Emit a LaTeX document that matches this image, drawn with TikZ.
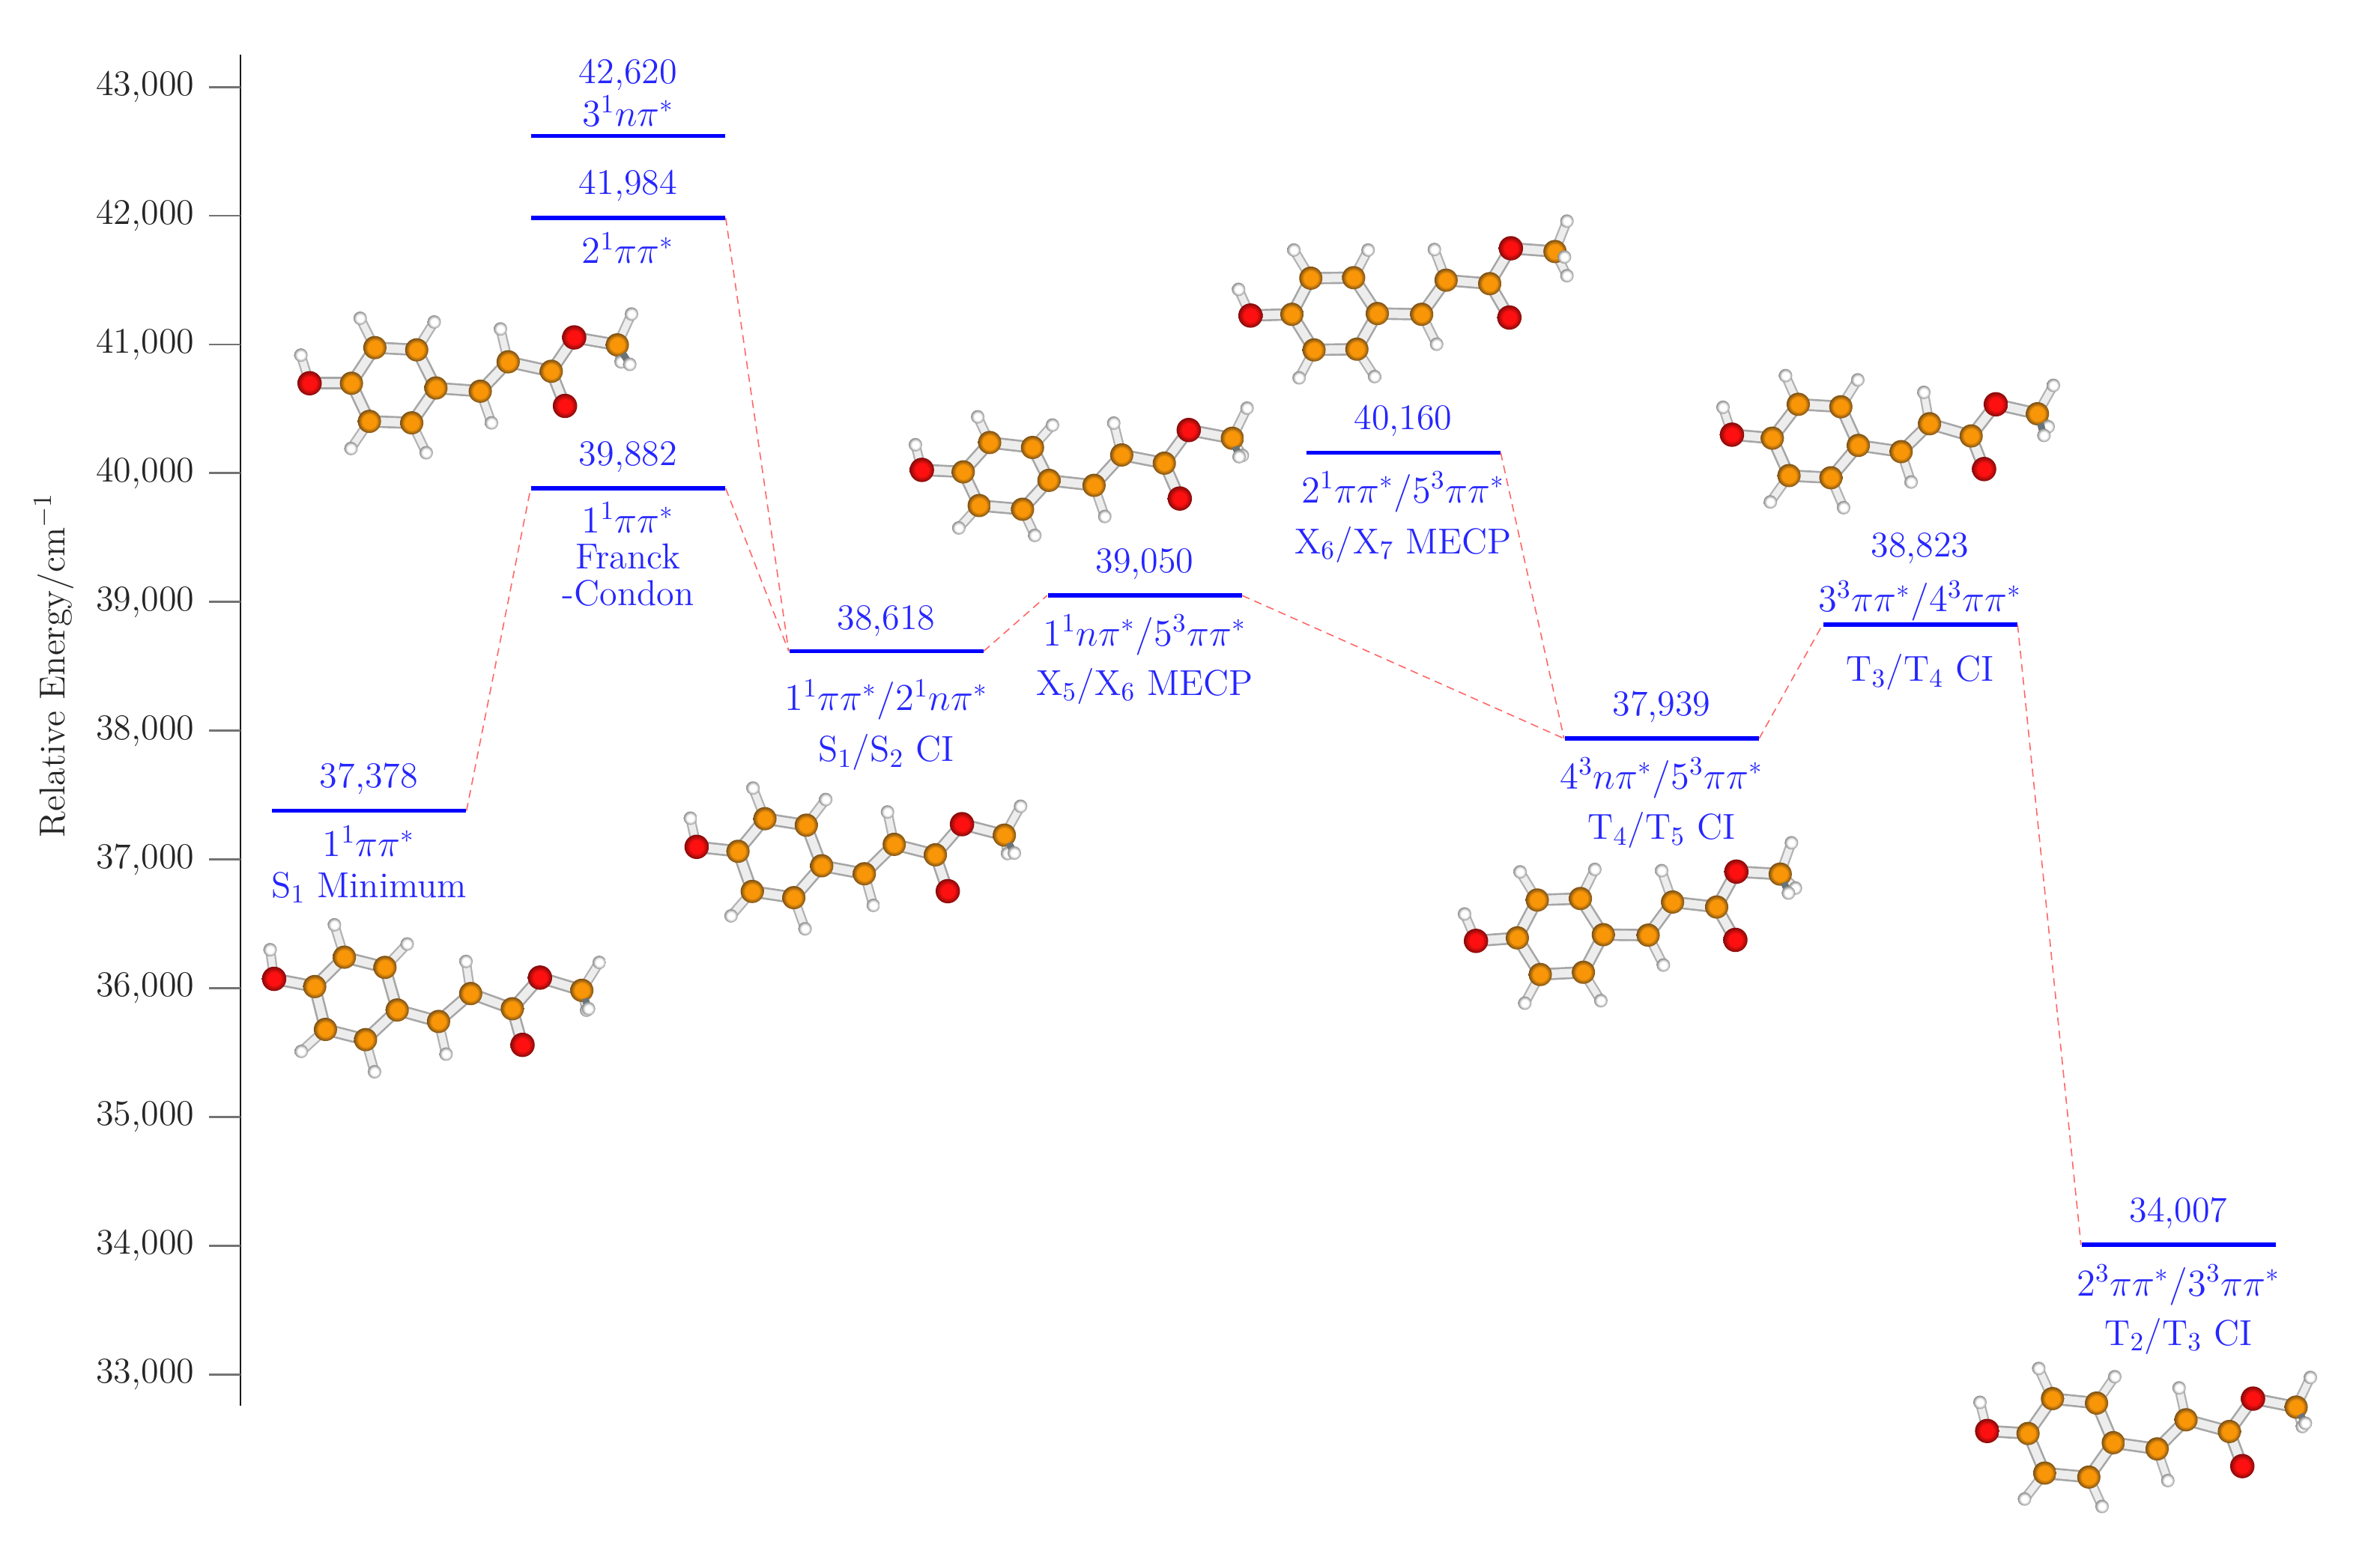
\documentclass[tikz,border=0pt]{standalone}
\usepackage{amsmath,amssymb}
\usetikzlibrary{calc, positioning}

\definecolor{carbonmid}{RGB}{248,150,8}
\definecolor{carbonrim}{RGB}{120,78,20}
\definecolor{oxygenmid}{RGB}{255,16,16}
\definecolor{oxygenrim}{RGB}{130,10,10}
\definecolor{hydrogenrim}{RGB}{140,140,140}
\definecolor{backgrey}{RGB}{105,115,120}
\pgfdeclareradialshading{carbonball}{\pgfpointorigin}{color(0bp)=(carbonmid); color(15bp)=(carbonmid); color(25bp)=(carbonrim); color(50bp)=(carbonrim)}
\pgfdeclareradialshading{oxygenball}{\pgfpointorigin}{color(0bp)=(oxygenmid); color(13bp)=(oxygenmid); color(25bp)=(oxygenrim); color(50bp)=(oxygenrim)}
\pgfdeclareradialshading{hydrogenball}{\pgfpointorigin}{color(0bp)=(white); color(13bp)=(white); color(25bp)=(hydrogenrim); color(50bp)=(hydrogenrim)}

\pgfdeclarelayer{bondlayer}
\pgfdeclarelayer{frontlayer}
\pgfsetlayers{bondlayer,main,frontlayer}

\newcommand{\molecule}[6]{%
\begin{scope}[shift={(#2)}, x=0.0033333cm, y=-0.0033333cm]
  \foreach \n/\x/\y in {#3} \node[carbon] (#1\n) at (\x,\y) {};
  \foreach \n/\x/\y in {#4} \node[hydrogen] (#1\n) at (\x,\y) {};
  \foreach \n/\x/\y in {#5} \node[oxygen] (#1\n) at (\x,\y) {};
  \begin{pgfonlayer}{frontlayer}
    \node[hydrogen] (#1h11) at (#6) {};
  \end{pgfonlayer}
  \begin{pgfonlayer}{bondlayer}
    \foreach \a/\b in {oA/c1,c1/c2,c2/c3,c3/c4,c4/c5,c5/c6,c6/c1,c4/c7,c7/c8,c8/c9,c9/o2,c9/o3,o3/c10}
      \draw[bond] (#1\a.center) -- (#1\b.center);
    \foreach \a/\b in {oA/hA,c2/h2,c3/h3,c5/h5,c6/h6,c7/h7,c8/h8,c10/h10,c10/h12}
      \draw[hbond] (#1\a.center) -- (#1\b.center);
  \end{pgfonlayer}
  \draw[backbond] ($(#1c10)!0.45!(#1h11)$) -- (#1h11.center);
\end{scope}}

\begin{document}
\begin{tikzpicture}[
  txt/.style={font=\fontsize{13.7}{13.8}\selectfont, inner sep=0pt},
  lab/.style={txt, text=labelblue, align=center},
  level/.style={fill=blue, minimum width=2.59cm, minimum height=0.055cm, inner sep=0pt},
  path/.style={red!60, line width=0.45pt, dash pattern=on 3pt off 2pt},
  carbon/.style={circle, shade, shading=carbonball, minimum size=0.31cm, inner sep=0pt},
  oxygen/.style={circle, shade, shading=oxygenball, minimum size=0.325cm, inner sep=0pt},
  hydrogen/.style={circle, shade, shading=hydrogenball, minimum size=0.18cm, inner sep=0pt},
  bond/.style={draw=black!35, double=black!7, line width=0.75pt, double distance=3.2pt},
  hbond/.style={draw=black!30, double=black!7, line width=0.65pt, double distance=2.5pt},
  backbond/.style={draw=backgrey, line width=2.6pt}
]
\colorlet{labelblue}{blue!85}
\useasboundingbox (0,0) rectangle (31.77,20.67);

% --- Energy axis ---
\coordinate (axtop) at (3.21,19.94);
\coordinate (axbot) at (3.21,1.90);
\draw[black!90, line width=0.85pt] (axtop) -- (axbot);
\foreach \n [count=\i from 0] in {33,...,43} {
  \pgfmathsetmacro{\yy}{2.318+1.719*\i}
  \coordinate (tick\n) at (3.21,\yy);
  \coordinate (tickend\n) at (2.79,\yy);
  \draw[black!55, line width=0.8pt] (tick\n) -- (tickend\n);
  \node[txt, text=black!85, left=0.19cm of tickend\n] (ticklab\n) {\n,000};
}
\node[txt, text=black!85, rotate=90] (ylab) at (0.72,11.79) {Relative Energy/cm$^{-1}$};

% --- Levels ---
\node[level] (smin) at (4.925,9.844) {};
\node[level] (upper) at (8.385,18.855) {};
\node[level] (second) at (8.385,17.761) {};
\node[level] (fc) at (8.385,14.148) {};
\node[level] (cia) at (11.83,11.975) {};
\node[level] (mea) at (15.28,12.718) {};
\node[level] (meb) at (18.73,14.626) {};
\node[level] (cib) at (22.18,10.808) {};
\node[level] (cic) at (25.63,12.328) {};
\node[level] (cid) at (29.08,4.049) {};

% --- Dashed pathways ---
\draw[path] (smin.east) -- (fc.west);
\draw[path] (second.east) -- (cia.west);
\draw[path] (fc.east) -- (cia.west);
\draw[path] (cia.east) -- (mea.west);
\draw[path] (mea.east) -- (cib.west);
\draw[path] (meb.east) -- (cib.west);
\draw[path] (cib.east) -- (cic.west);
\draw[path] (cic.east) -- (cid.west);

% --- Labels ---
\node[lab, above=5pt of smin] (sminE) {37,378};
\node[lab, below=4.5pt of smin] (sminS) {$1^1\pi\pi^*$};
\node[lab, below=5.5pt of sminS] (sminN) {S$_1$ Minimum};

\node[lab, above=2.5pt of upper] (upperS) {$3^1n\pi^*$};
\node[lab, above=1.5pt of upperS] (upperE) {42,620};
\node[lab, above=5pt of second] (secondE) {41,984};
\node[lab, below=4.5pt of second] (secondS) {$2^1\pi\pi^*$};

\node[lab, above=5pt of fc] (fcE) {39,882};
\node[lab, below=4pt of fc] (fcS) {$1^1\pi\pi^*$\\Franck\\-Condon};

\node[lab, above=4.5pt of cia] (ciaE) {38,618};
\node[lab, below=9.7pt of cia] (ciaS) {$1^1\pi\pi^*/2^1n\pi^*$};
\node[lab, below=5pt of ciaS] (ciaN) {S$_1$/S$_2$ CI};

\node[lab, above=5pt of mea] (meaE) {39,050};
\node[lab, below=6.2pt of mea] (meaS) {$1^1n\pi^*/5^3\pi\pi^*$};
\node[lab, below=4.5pt of meaS] (meaN) {X$_5$/X$_6$ MECP};

\node[lab, above=5pt of meb] (mebE) {40,160};
\node[lab, below=6.2pt of meb] (mebS) {$2^1\pi\pi^*/5^3\pi\pi^*$};
\node[lab, below=5pt of mebS] (mebN) {X$_6$/X$_7$ MECP};

\node[lab, above=5pt of cib] (cibE) {37,939};
\node[lab, below=6.2pt of cib] (cibS) {$4^3n\pi^*/5^3\pi\pi^*$};
\node[lab, below=5pt of cibS] (cibN) {T$_4$/T$_5$ CI};

\node[lab, above=0.2pt of cic] (cicS) {$3^3\pi\pi^*/4^3\pi\pi^*$};
\node[lab, above=6pt of cicS] (cicE) {38,823};
\node[lab, below=10pt of cic] (cicN) {T$_3$/T$_4$ CI};

\node[lab, above=5pt of cid] (cidE) {34,007};
\node[lab, below=6.5pt of cid] (cidS) {$2^3\pi\pi^*/3^3\pi\pi^*$};
\node[lab, below=4.5pt of cidS] (cidN) {T$_2$/T$_3$ CI};

% --- Molecules ---
\molecule{m1}{3.20,8.87}
  {c1/301/413,c2/420/295,c3/583/336,c4/632/507,c5/505/626,c6/344/585,c7/798/553,c8/927/441,c9/1094/502,c10/1373/428}
  {hA/122/265,h2/380/165,h3/672/242,h5/541/755,h6/247/673,h7/828/684,h8/908/312,h10/1443/316,h12/1392/508}
  {oA/138/382,o2/1135/647,o3/1205/377}{1400,502}
\molecule{m2}{3.80,16.67}
  {c1/268/336,c2/362/193,c3/530/202,c4/607/355,c5/510/495,c6/340/489,c7/785/368,c8/897/250,c9/1070/288,c10/1335/182}
  {hA/65/223,h2/303/75,h3/600/90,h5/568/615,h6/266/598,h7/830/495,h8/866/118,h10/1392/58,h12/1350/250}
  {oA/100/336,o2/1125/427,o3/1162/152}{1385,260}
\molecule{m3}{9.00,10.37}
  {c1/256/321,c2/364/190,c3/530/216,c4/592/379,c5/480/507,c6/313/482,c7/763/411,c8/883/293,c9/1048/335,c10/1325/256}
  {hA/65/188,h2/316/67,h3/608/113,h5/525/632,h6/228/580,h7/799/538,h8/856/163,h10/1390/140,h12/1338/330}
  {oA/90/303,o2/1098/481,o3/1155/212}{1365,328}
\molecule{m4}{12.00,15.37}
  {c1/258/301,c2/364/183,c3/536/203,c4/602/335,c5/496/451,c6/322/436,c7/783/355,c8/894/233,c9/1065/266,c10/1338/166}
  {hA/66/192,h2/316/80,h3/616/113,h5/545/556,h6/240/526,h7/826/480,h8/862/105,h10/1397/45,h12/1378/235}
  {oA/92/293,o2/1127/408,o3/1163/133}{1365,240}
\molecule{m5}{16.30,17.87}
  {c1/284/420,c2/360/275,c3/532/273,c4/627/417,c5/545/560,c6/373/563,c7/805/420,c8/903/283,c9/1078/297,c10/1340/168}
  {hA/70/320,h2/292/162,h3/590/162,h5/616/670,h6/313/675,h7/865/540,h8/856/160,h10/1388/46,h12/1388/265}
  {oA/118/425,o2/1157/433,o3/1163/155}{1378,190}
\molecule{m6}{19.30,9.57}
  {c1/287/428,c2/367/276,c3/540/270,c4/632/415,c5/552/566,c6/379/575,c7/812/417,c8/910/284,c9/1087/304,c10/1342/172}
  {hA/75/332,h2/298/163,h3/598/153,h5/622/680,h6/317/690,h7/873/537,h8/866/158,h10/1387/46,h12/1403/228}
  {oA/121/440,o2/1162/436,o3/1166/162}{1375,248}
\molecule{m7}{22.80,15.87}
  {c1/258/316,c2/362/180,c3/533/190,c4/603/345,c5/493/475,c6/325/466,c7/775/370,c8/889/258,c9/1056/307,c10/1322/218}
  {hA/60/192,h2/311/65,h3/601/82,h5/544/595,h6/250/572,h7/815/492,h8/866/132,h10/1386/104,h12/1365/270}
  {oA/96/302,o2/1108/440,o3/1155/180}{1348,305}
\molecule{m8}{26.30,2.57}
  {c1/232/313,c2/330/173,c3/507/191,c4/574/350,c5/476/488,c6/299/472,c7/750/375,c8/866/258,c9/1040/305,c10/1308/207}
  {hA/39/188,h2/275/52,h3/580/85,h5/529/606,h6/218/576,h7/793/502,h8/838/130,h10/1365/88,h12/1333/285}
  {oA/68/303,o2/1092/444,o3/1135/173}{1345,272}

\end{tikzpicture}
\end{document}
